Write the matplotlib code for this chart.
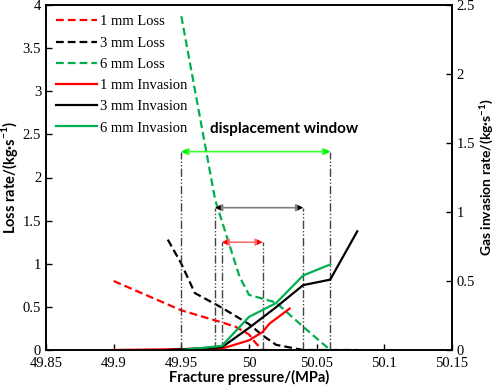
import numpy as np
import matplotlib.pyplot as plt

serif = 'Liberation Serif'
sans = 'Lato'
plt.rcParams['font.family'] = serif
plt.rcParams['mathtext.fontset'] = 'custom'
plt.rcParams['mathtext.bf'] = 'Lato:bold'
plt.rcParams['mathtext.rm'] = 'Lato'

# loss rate series (left axis)
x_loss1 = [49.9, 49.95, 49.98, 49.99, 50.0, 50.005, 50.01, 50.015]
y_loss1 = [0.8, 0.46, 0.32, 0.27, 0.18, 0.08, 0.0, 0.0]
x_loss3 = [49.94, 49.95, 49.96, 49.98, 50.0, 50.01, 50.02, 50.04, 50.08]
y_loss3 = [1.28, 1.0, 0.66, 0.49, 0.3, 0.17, 0.06, 0.0, 0.0]
x_loss6 = [49.95, 49.975, 49.993, 50.0, 50.02, 50.04, 50.06]
y_loss6 = [3.87, 1.74, 0.85, 0.64, 0.55, 0.27, 0.0]

# gas invasion series (right axis)
x_inv1 = [49.9, 49.98, 50.0, 50.01, 50.015, 50.03]
y_inv1 = [0.0, 0.01, 0.07, 0.13, 0.19, 0.30]
x_inv3 = [49.94, 49.98, 50.0, 50.02, 50.04, 50.06, 50.08]
y_inv3 = [0.0, 0.02, 0.16, 0.31, 0.47, 0.51, 0.86]
x_inv6 = [49.95, 49.98, 50.0, 50.02, 50.04, 50.06]
y_inv6 = [0.0, 0.03, 0.24, 0.34, 0.54, 0.62]

# displacement windows: (start, end, height on left axis)
windows = [(49.95, 50.06, 2.3, '#00ee00', '#33ff33'),
           (49.975, 50.04, 1.65, 'black', 'gray'),
           (49.98, 50.01, 1.25, 'red', '#ff7070')]

red = '#ff0000'
green = '#00b050'

fig = plt.figure(figsize=(4.98, 3.88), dpi=100)
ax = fig.add_axes([46 / 498, 1 - 350 / 388, 406 / 498, 345 / 388])
ax2 = ax.twinx()

lw = 1.6
dash = (0, (3.5, 1.8))
h1, = ax.plot(x_loss1, y_loss1, color=red, lw=lw, ls=dash)
h2, = ax.plot(x_loss3, y_loss3, color='black', lw=lw, ls=dash)
h3, = ax.plot(x_loss6, y_loss6, color=green, lw=lw, ls=dash)
h4, = ax2.plot(x_inv1, y_inv1, color=red, lw=lw)
h5, = ax2.plot(x_inv3, y_inv3, color='black', lw=lw)
h6, = ax2.plot(x_inv6, y_inv6, color=green, lw=lw)

for x0, x1, h, head, shaft in windows:
    for xv in (x0, x1):
        ax.plot([xv, xv], [0, h], color='#444444', lw=1.0,
                ls=(0, (6, 1.5, 1, 1.5, 1, 1.5)))
    ax.annotate('', xy=(x0, h), xytext=(x1, h),
                arrowprops=dict(arrowstyle='<|-|>', color=shaft, lw=1.2,
                                mutation_scale=10, shrinkA=0, shrinkB=0))
    ax.annotate('', xy=(x0, h), xytext=(x0 + 0.006, h),
                arrowprops=dict(arrowstyle='-|>', color=head, lw=0,
                                mutation_scale=10, shrinkA=0, shrinkB=0))
    ax.annotate('', xy=(x1, h), xytext=(x1 - 0.006, h),
                arrowprops=dict(arrowstyle='-|>', color=head, lw=0,
                                mutation_scale=10, shrinkA=0, shrinkB=0))

ax.text(50.026, 2.56, 'displacement window', fontsize=11,
        fontweight='bold', family=sans, ha='center', va='center')

ax.set_xlim(49.85, 50.15)
ax.set_ylim(0, 4)
ax2.set_ylim(0, 2.5)
ax.set_xticks(np.arange(49.85, 50.151, 0.05))
ax.set_xticklabels(['49.85', '49.9', '49.95', '50', '50.05', '50.1', '50.15'])
ax.set_yticks(np.arange(0, 4.01, 0.5))
ax.set_yticklabels(['0', '0.5', '1', '1.5', '2', '2.5', '3', '3.5', '4'])
ax2.set_yticks(np.arange(0, 2.51, 0.5))
ax2.set_yticklabels(['0', '0.5', '1', '1.5', '2', '2.5'])

for a in (ax, ax2):
    a.tick_params(direction='in', labelsize=10.5, width=1, length=4,
                  labelfontfamily=serif)
    for s in a.spines.values():
        s.set_linewidth(1.2)
ax.tick_params(axis='x', pad=5)

ax.set_xlabel('Fracture pressure/(MPa)', fontsize=10.5, fontweight='bold',
              family=sans, labelpad=0)
ax.set_ylabel('Loss rate/(kg·s$^{\\mathbf{-1}}$)', fontsize=10.5,
              fontweight='bold', family=sans, labelpad=2)
ax2.set_ylabel('Gas invasion rate/(kg·s$^{\\mathbf{-1}}$)', fontsize=10,
               fontweight='bold', family=sans, labelpad=1)

ax.legend([h1, h2, h3, h4, h5, h6],
          ['1 mm Loss', '3 mm Loss', '6 mm Loss',
           '1 mm Invasion', '3 mm Invasion', '6 mm Invasion'],
          loc='upper left', bbox_to_anchor=(0.0, 1.0), frameon=False,
          prop={'family': serif, 'size': 10.5}, handlelength=2.8,
          handletextpad=0.2, labelspacing=0.55, borderaxespad=0.3)

fig.savefig('out.png', dpi=100)
